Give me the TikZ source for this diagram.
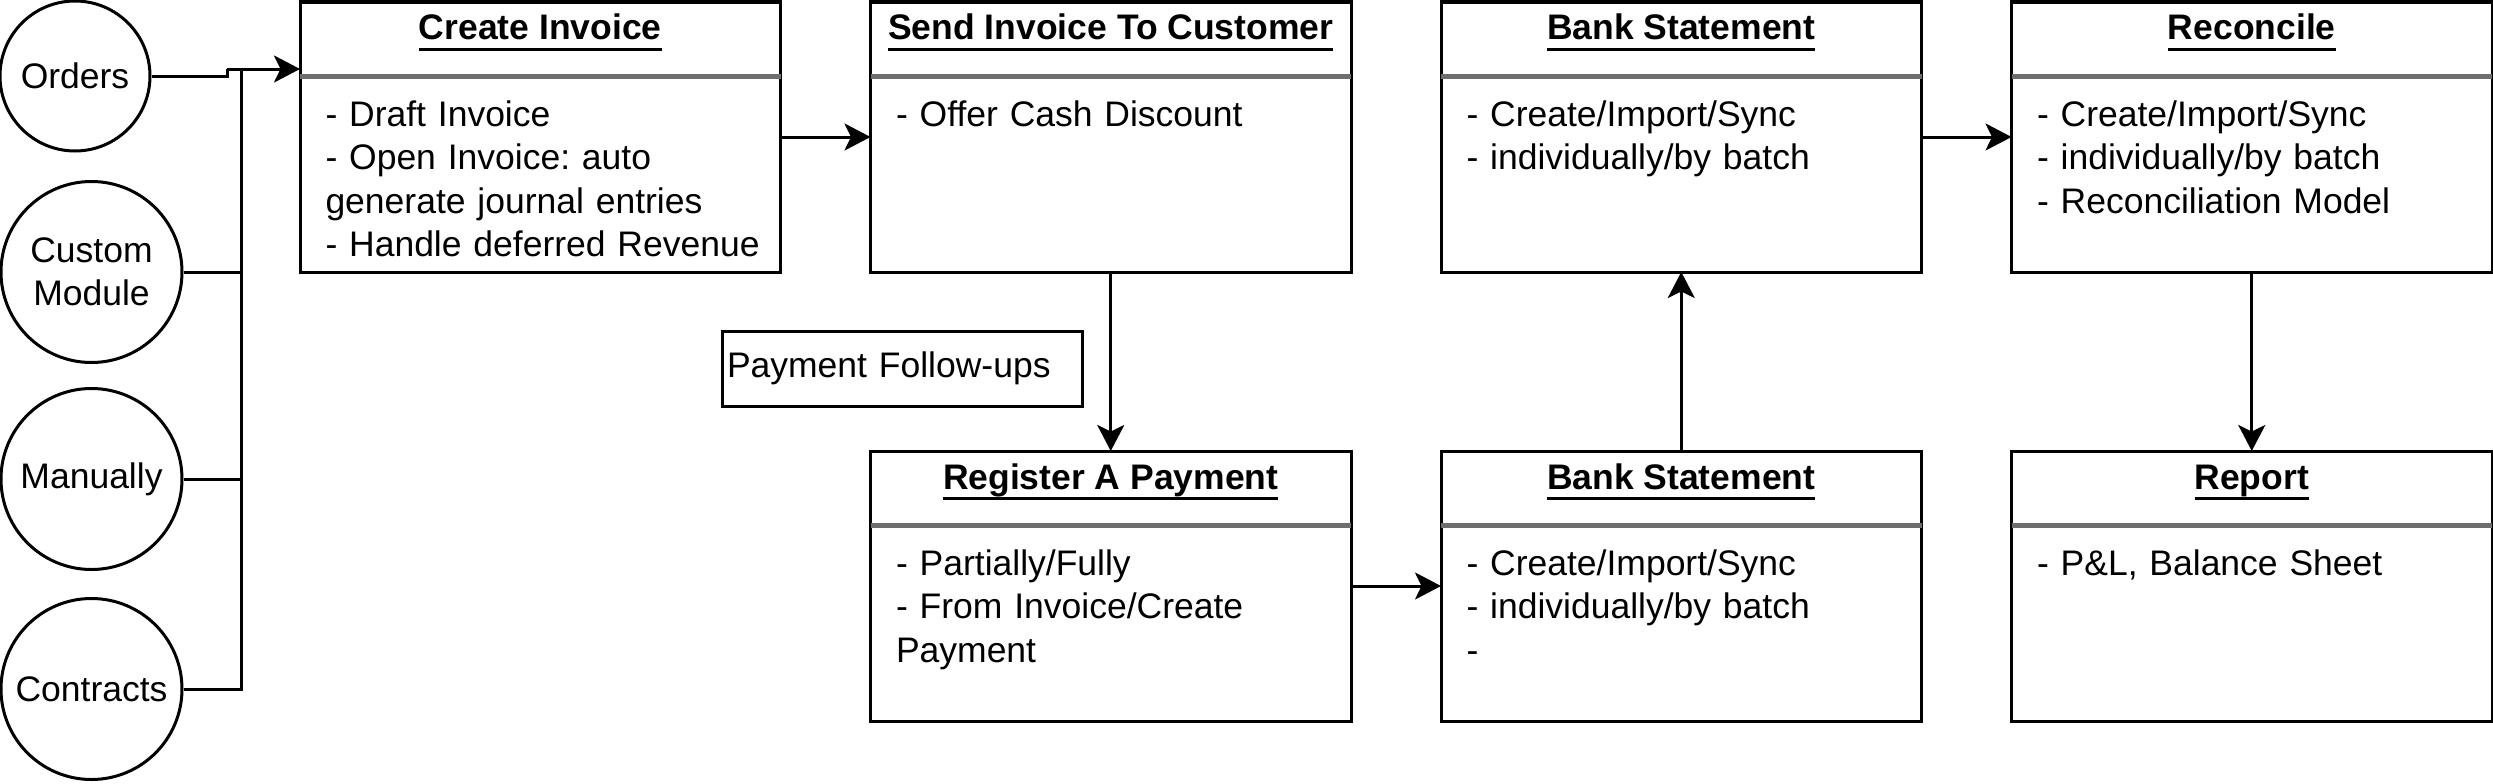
\documentclass[tikz,border=0pt]{standalone}
\usepackage{fontspec}
\setmainfont{Liberation Sans}
\usetikzlibrary{arrows.meta,positioning}
\frenchspacing

\definecolor{rulegray}{RGB}{110,110,110}
\newcommand{\ulhead}[1]{\setbox0\hbox{\bfseries #1}\rlap{\copy0}\rule[-4.2pt]{\wd0}{1.2pt}}
\newcommand{\classbox}[4]{%
	\node (#1) [block, #2] {};
	\node (#1-title) [headline] at ([yshift=-15.2pt]#1.north) {\ulhead{#3}};
	\draw[divider] ([yshift=-29.6pt]#1.north west) -- ([yshift=-29.6pt]#1.north east);
	\node (#1-body) [bodytext] at ([xshift=9.6pt, yshift=-49.6pt]#1.north west) {#4};
}

\begin{document}
\begin{tikzpicture}[
		font=\fontsize{14.2pt}{17.4pt}\selectfont,
		node distance=71.6pt and 36pt,
		line width=1.2pt,
		block/.style={draw, rectangle, minimum width=192.2pt, minimum height=108pt, inner sep=0pt, outer sep=0pt},
		headline/.style={anchor=base, inner sep=0pt},
		divider/.style={draw=rulegray, line width=2pt},
		bodytext/.style={anchor=base west, text width=180pt, align=left, inner sep=0pt},
		source/.style={draw, circle, minimum size=72.4pt, inner sep=0pt, align=center},
		flow/.style={-{Stealth[length=10.4pt, width=10.8pt, inset=2.6pt]}},
	]
		\useasboundingbox (0pt,0pt) rectangle (997.2pt,-313.2pt);

		% where the invoices come from
		\node (orders) [source, minimum size=60pt] at (30pt,-30.4pt) {Orders};
		\node (custom) [source] at (36.6pt,-108.8pt) {Custom\\Module};
		\node (manually) [source] at (36.6pt,-191.6pt) {Manually};
		\node (contracts) [source] at (36.6pt,-275.6pt) {Contracts};

		\classbox{invoice}{at={(216.1pt,-54.8pt)}}{Create Invoice}{- Draft Invoice\\- Open Invoice: auto\\generate journal entries\\- Handle deferred Revenue}
		\classbox{sending}{right=of invoice}{Send Invoice To Customer}{- Offer Cash Discount}
		\classbox{statement}{right=of sending}{Bank Statement}{- Create/Import/Sync\\- individually/by batch}
		\classbox{reconcile}{right=of statement}{Reconcile}{- Create/Import/Sync\\- individually/by batch\\- Reconciliation Model}
		\classbox{payment}{below=of sending}{Register A Payment}{- Partially/Fully\\- From Invoice/Create\\Payment}
		\classbox{paystatement}{right=of payment}{Bank Statement}{- Create/Import/Sync\\- individually/by batch\\-}
		\classbox{report}{right=of paystatement}{Report}{- P\&L, Balance Sheet}

		\node (followups) [draw, minimum width=144pt, minimum height=30pt, text width=140pt, inner sep=2pt, align=left] at (360.8pt,-147.4pt) {Payment Follow-ups};

		% sources joined into one line
		\coordinate (jog) at (90.8pt,-27.6pt);
		\coordinate (trunk) at (96.4pt,-27.6pt);
		\draw (orders.east) -- (orders.east -| jog) -- (jog);
		\draw (custom) -- (custom -| trunk);
		\draw (manually) -- (manually -| trunk);
		\draw (contracts) -- (contracts -| trunk) -- (trunk);
		\draw[flow] (jog) -- (jog -| invoice.west);

		\draw[flow] (invoice) -- (sending);
		\draw[flow] (sending) -- (payment);
		\draw[flow] (payment) -- (paystatement);
		\draw[flow] (paystatement) -- (statement);
		\draw[flow] (statement) -- (reconcile);
		\draw[flow] (reconcile) -- (report);
	\end{tikzpicture}
\end{document}
